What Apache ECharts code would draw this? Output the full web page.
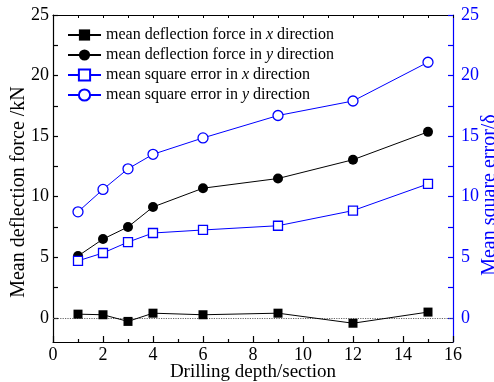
<!DOCTYPE html>
<html>
<head>
<meta charset="utf-8">
<script src="https://cdn.jsdelivr.net/npm/echarts@6/dist/echarts.min.js"></script>
<style>html,body{margin:0;padding:0;background:#fff}#c{width:494px;height:382px}</style>
</head>
<body>
<div id="c"></div>
<script>
const depth = [1, 2, 3, 4, 6, 9, 12, 15];
const forceX = [0.3, 0.25, -0.3, 0.38, 0.25, 0.38, -0.45, 0.47];
const forceY = [5.1, 6.5, 7.5, 9.15, 10.7, 11.5, 13.05, 15.35];
const mseX = [4.7, 5.35, 6.25, 7.0, 7.25, 7.6, 8.85, 11.05];
const mseY = [8.75, 10.6, 12.3, 13.5, 14.85, 16.7, 17.9, 21.1];
const seriesNames = [
  'mean deflection force in x direction',
  'mean deflection force in y direction',
  'mean square error in x direction',
  'mean square error in y direction'
];
const yLabels = [0, 5, 10, 15, 20, 25];
const yTicks = [0, 2.5, 5, 7.5, 10, 12.5, 15, 17.5, 20, 22.5, 25];

const FONT = 'Liberation Serif';
const BLUE = '#0000ff';
const pair = arr => depth.map((d, i) => [d, arr[i]]);

const chart = echarts.init(document.getElementById('c'), null, {renderer: 'canvas'});
const baseY = (pos, color, extra) => Object.assign({
  type: 'value', position: pos, offset: 0, min: -2, max: 25, gridIndex: 0,
  axisLine: {show: true, onZero: false, lineStyle: {color: color, width: 1.2}},
  splitLine: {show: false}
}, extra);

chart.setOption({
  animation: false,
  backgroundColor: '#fff',
  grid: {left: 53, right: 41, top: 15, bottom: 40, containLabel: false, outerBoundsMode: 'none'},
  legend: {
    orient: 'vertical', left: 62, top: 22, itemWidth: 33, itemHeight: 14, itemGap: 4,
    data: seriesNames,
    formatter: n => n.replace(' x ', ' {i|x} ').replace(' y ', ' {i|y} '),
    textStyle: {fontFamily: FONT, fontSize: 16, lineHeight: 16, color: '#000',
      rich: {i: {fontFamily: FONT, fontSize: 16, lineHeight: 16, fontStyle: 'italic', color: '#000'}}}
  },
  xAxis: [
    {
      type: 'value', position: 'bottom', offset: 0, min: 0, max: 16, interval: 2,
      axisLine: {onZero: false, lineStyle: {color: '#000', width: 1.2}},
      axisTick: {inside: true, length: 6, lineStyle: {color: '#000', width: 1.2}},
      minorTick: {show: true, splitNumber: 2, length: 3, lineStyle: {color: '#000', width: 1.2}},
      splitLine: {show: false},
      axisLabel: {fontFamily: FONT, fontSize: 18, color: '#000', margin: 4},
      name: 'Drilling depth/section', nameLocation: 'middle', nameGap: 21, nameMoveOverlap: false,
      nameTextStyle: {fontFamily: FONT, fontSize: 19, color: '#000'}
    },
    {
      type: 'value', position: 'top', offset: 0, min: 0, max: 16, interval: 1,
      axisLine: {onZero: false, lineStyle: {color: '#000', width: 1.2}},
      axisTick: {inside: true, length: 3, lineStyle: {color: '#000', width: 1}},
      splitLine: {show: false},
      axisLabel: {show: false}
    }
  ],
  yAxis: [
    baseY('left', '#000', {
      axisLabel: {show: true, customValues: yLabels, fontFamily: FONT, fontSize: 18, color: '#000', margin: 4},
      axisTick: {show: true, inside: true, length: 5, customValues: yTicks, lineStyle: {color: '#000', width: 1.2}},
      name: 'Mean deflection force /kN', nameLocation: 'middle', nameRotate: 90, nameGap: 24, nameMoveOverlap: false,
      nameTextStyle: {fontFamily: FONT, fontSize: 20, color: '#000', padding: [0, 27, 0, 0]}
    }),
    baseY('right', BLUE, {
      axisLabel: {show: true, customValues: yLabels, fontFamily: FONT, fontSize: 18, color: BLUE, margin: 8},
      axisTick: {show: true, inside: true, length: 5, customValues: yTicks, lineStyle: {color: BLUE, width: 1.2}},
      name: 'Mean square error/δ', nameLocation: 'middle', nameRotate: 90, nameGap: 27, nameMoveOverlap: false,
      nameTextStyle: {fontFamily: FONT, fontSize: 20, color: BLUE, padding: [0, 33, 0, 0]}
    })
  ],
  series: [
    {
      name: seriesNames[0], type: 'line', xAxisIndex: 0, yAxisIndex: 0, data: pair(forceX),
      symbol: 'rect', symbolSize: 9, color: '#000',
      lineStyle: {color: '#000', width: 1}, itemStyle: {color: '#000'},
      markLine: {
        silent: true, symbol: 'none', label: {show: false}, z: 1,
        lineStyle: {color: '#666', type: 'dotted', width: 1.2},
        data: [{yAxis: 0}]
      }
    },
    {
      name: seriesNames[1], type: 'line', xAxisIndex: 0, yAxisIndex: 0, data: pair(forceY),
      symbol: 'circle', symbolSize: 10, color: '#000',
      lineStyle: {color: '#000', width: 1}, itemStyle: {color: '#000'}
    },
    {
      name: seriesNames[2], type: 'line', xAxisIndex: 0, yAxisIndex: 1, data: pair(mseX),
      symbol: 'rect', symbolSize: 9, color: BLUE,
      lineStyle: {color: BLUE, width: 1}, itemStyle: {color: '#fff', borderColor: BLUE, borderWidth: 1.3}
    },
    {
      name: seriesNames[3], type: 'line', xAxisIndex: 0, yAxisIndex: 1, data: pair(mseY),
      symbol: 'circle', symbolSize: 10, color: BLUE,
      lineStyle: {color: BLUE, width: 1}, itemStyle: {color: '#fff', borderColor: BLUE, borderWidth: 1.3}
    }
  ]
});
</script>
</body>
</html>
